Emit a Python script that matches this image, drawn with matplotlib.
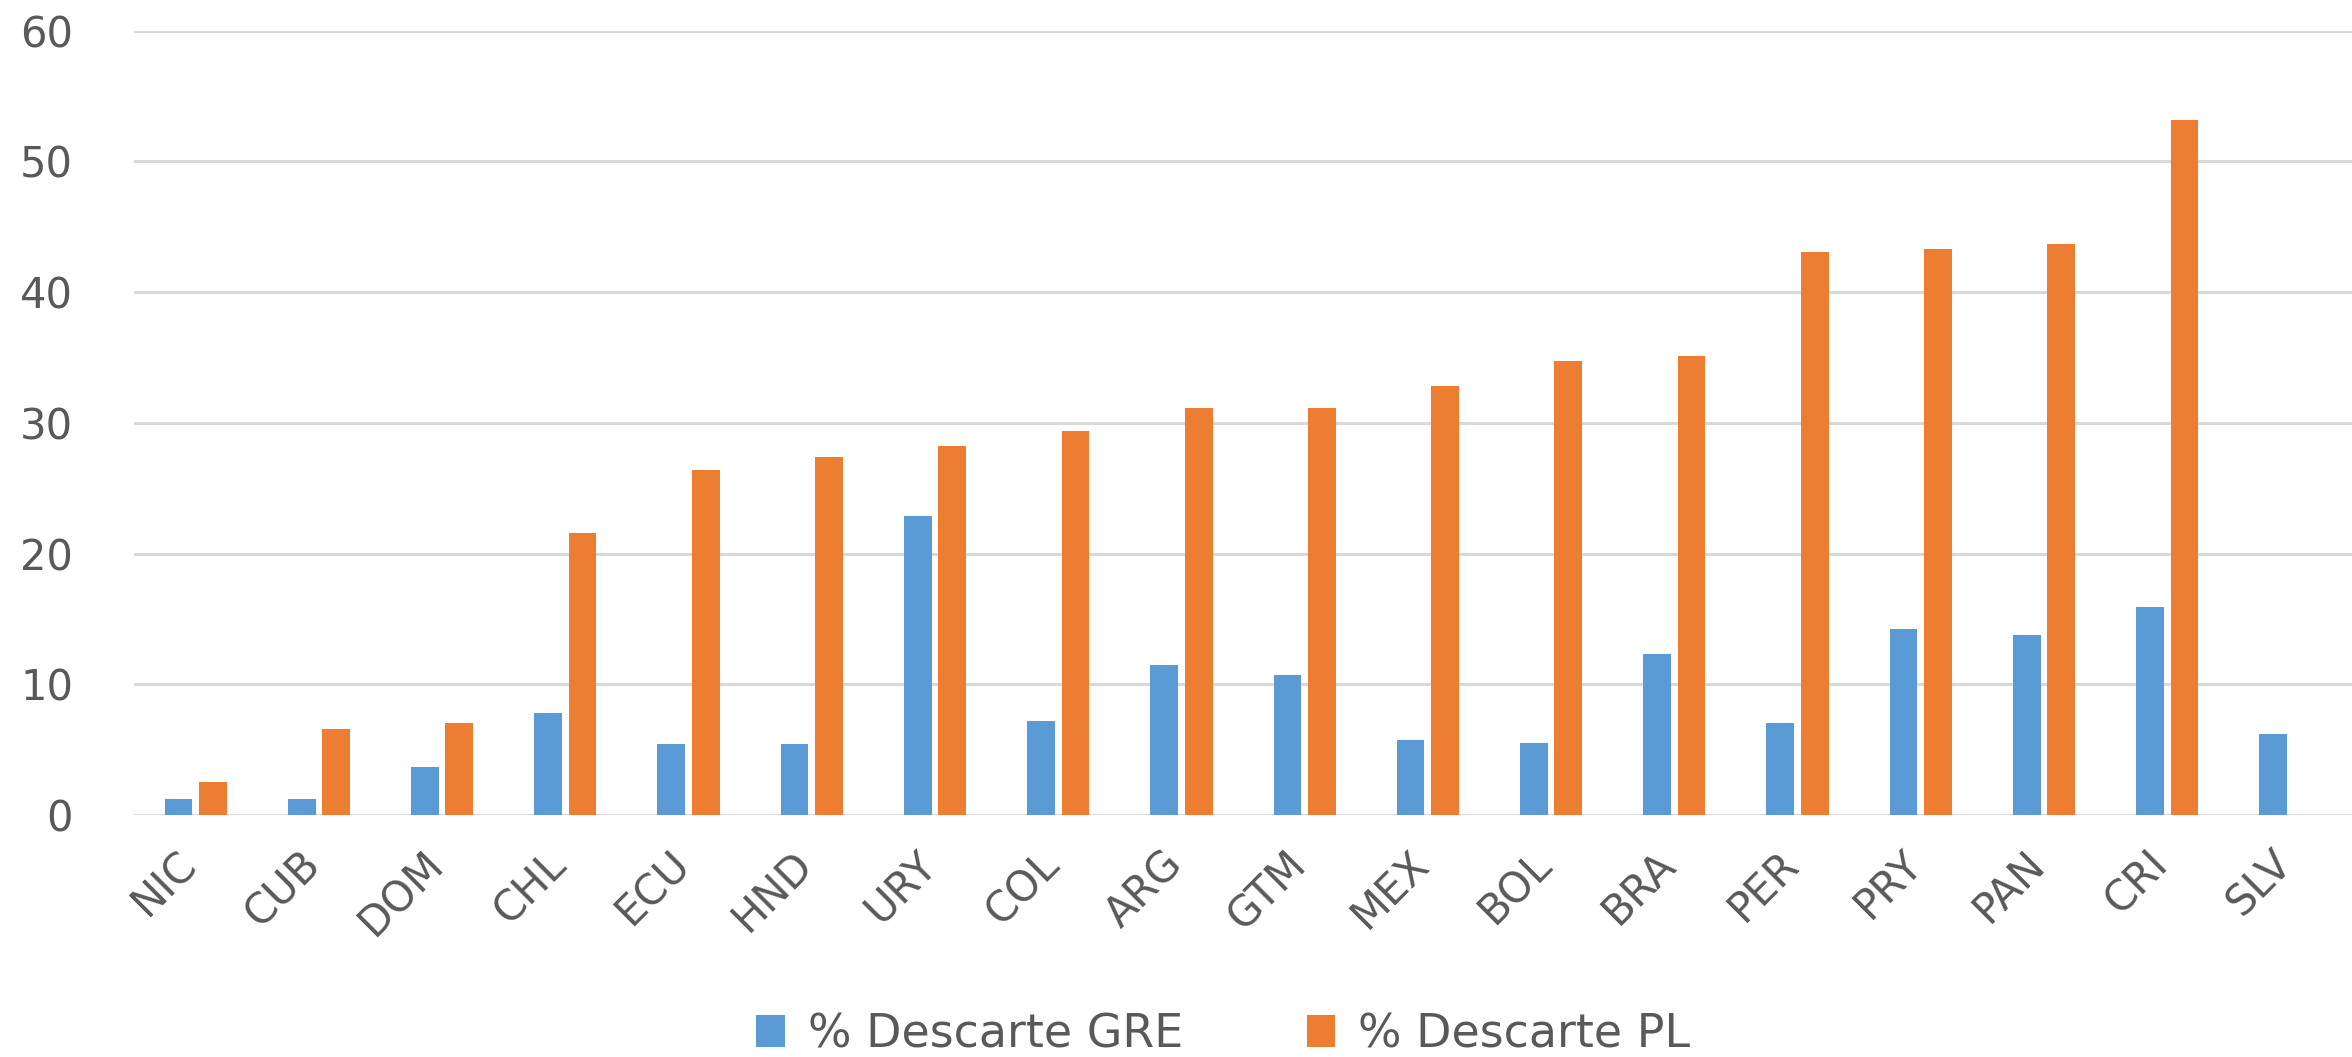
import numpy as np
import matplotlib
matplotlib.use("Agg")
import matplotlib.pyplot as plt
import matplotlib.transforms as mtrans

# data
countries = ["NIC", "CUB", "DOM", "CHL", "ECU", "HND", "URY", "COL", "ARG",
             "GTM", "MEX", "BOL", "BRA", "PER", "PRY", "PAN", "CRI", "SLV"]
descarte_gre = [1.2, 1.2, 3.7, 7.8, 5.4, 5.4, 22.9, 7.2, 11.5,
                10.7, 5.7, 5.5, 12.3, 7.0, 14.2, 13.8, 15.9, 6.2]
descarte_pl = [2.5, 6.6, 7.0, 21.6, 26.4, 27.4, 28.2, 29.4, 31.1,
               31.1, 32.8, 34.7, 35.1, 43.1, 43.3, 43.7, 53.2, 0.0]
series_names = ["% Descarte GRE", "% Descarte PL"]

blue = "#5B9BD5"
orange = "#ED7D31"
grid_col = "#D9D9D9"
text_col = "#595959"

fig = plt.figure(figsize=(23.52, 10.57), dpi=100)
ax = fig.add_axes([0.057, 0.229, 0.943, 0.742])

x = np.arange(len(countries))
w = 0.225
off = 0.14
ax.bar(x - off, descarte_gre, w, color=blue, label=series_names[0], zorder=3)
ax.bar(x + off, descarte_pl, w, color=orange, label=series_names[1], zorder=3)

ax.set_xlim(-0.5, len(countries) - 0.5)
ax.set_ylim(0, 60)
ax.set_yticks(range(0, 61, 10))
ax.yaxis.grid(True, color=grid_col, linewidth=2.2, zorder=0)
ax.set_axisbelow(True)

for s in ax.spines.values():
    s.set_visible(False)
ax.tick_params(axis="both", length=0, labelsize=30, labelcolor=text_col)
ax.tick_params(axis="y", pad=44)
ax.set_xticks(x)
ax.set_xticklabels(countries, rotation=45, ha="right", rotation_mode="anchor")
ax.tick_params(axis="x", pad=20)

# nudge rotated labels left so their end sits under the tick
shift = mtrans.ScaledTranslation(-0.2, 0, fig.dpi_scale_trans)
for lbl in ax.get_xticklabels():
    lbl.set_transform(lbl.get_transform() + shift)

fig.legend(loc="center", bbox_to_anchor=(0.52, 0.021), ncol=2, frameon=False,
           fontsize=33, labelcolor=text_col, handlelength=0.62, handleheight=0.68,
           handletextpad=0.5, columnspacing=2.7)

fig.savefig("out.png", dpi=100, facecolor="white")
